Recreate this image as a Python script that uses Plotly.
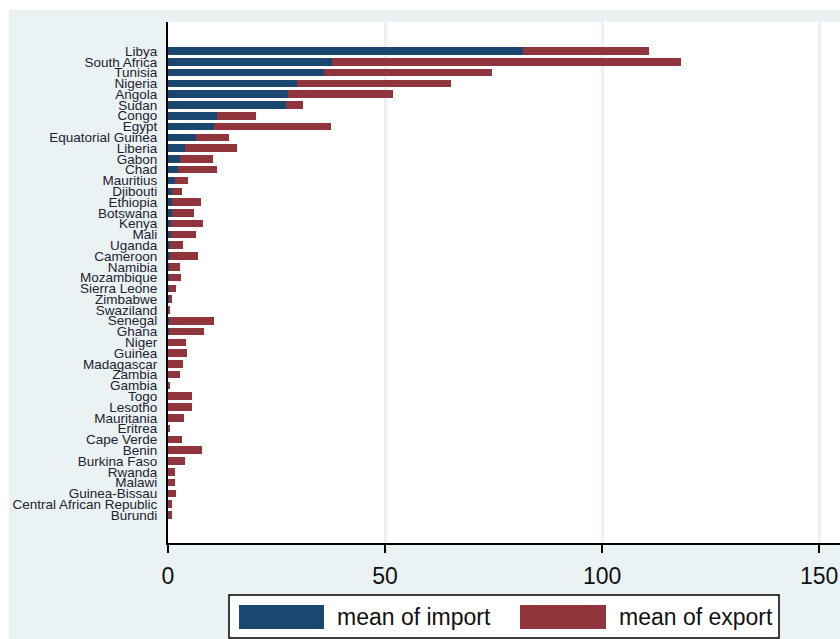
import plotly.graph_objects as go

# Country-level average trade values (import / export), ordered as plotted top to bottom
countries = [
    "Libya", "South Africa", "Tunisia", "Nigeria", "Angola", "Sudan", "Congo", "Egypt",
    "Equatorial Guinea", "Liberia", "Gabon", "Chad", "Mauritius", "Djibouti", "Ethiopia",
    "Botswana", "Kenya", "Mali", "Uganda", "Cameroon", "Namibia", "Mozambique",
    "Sierra Leone", "Zimbabwe", "Swaziland", "Senegal", "Ghana", "Niger", "Guinea",
    "Madagascar", "Zambia", "Gambia", "Togo", "Lesotho", "Mauritania", "Eritrea",
    "Cape Verde", "Benin", "Burkina Faso", "Rwanda", "Malawi", "Guinea-Bissau",
    "Central African Republic", "Burundi",
]
mean_import = [
    81.8, 37.7, 35.9, 29.8, 27.7, 27.2, 11.4, 10.7,
    6.4, 3.9, 2.7, 2.3, 1.6, 1.0, 0.9,
    0.9, 0.6, 0.6, 0.4, 0.4, 0.3, 0.3,
    0.2, 0.2, 0.1, 0.2, 0.2, 0.1, 0.1,
    0.1, 0.1, 0.1, 0.1, 0.1, 0.1, 0.1,
    0.1, 0.1, 0.1, 0.1, 0.1, 0.1,
    0.1, 0.1,
]
mean_export = [
    29.0, 80.5, 38.8, 35.5, 24.1, 3.9, 8.8, 26.8,
    7.6, 12.1, 7.7, 9.0, 3.1, 2.2, 6.7,
    5.2, 7.4, 5.8, 3.1, 6.4, 2.5, 2.8,
    1.6, 0.8, 0.4, 10.5, 8.0, 4.0, 4.3,
    3.4, 2.6, 0.4, 5.4, 5.5, 3.6, 0.4,
    3.2, 7.7, 3.8, 1.4, 1.4, 1.7,
    0.9, 0.9,
]
series_names = ["mean of import", "mean of export"]
x_ticks = [0, 50, 100, 150]

NAVY = "#1a476f"
MAROON = "#90353b"
BG = "#eaf2f3"
FONT = "Arial, Liberation Sans, sans-serif"

fig = go.Figure()
fig.add_trace(go.Bar(y=countries, x=mean_import, orientation="h", name=series_names[0],
                     marker=dict(color=NAVY, line=dict(width=0))))
fig.add_trace(go.Bar(y=countries, x=mean_export, orientation="h", name=series_names[1],
                     marker=dict(color=MAROON, line=dict(width=0))))

n = len(countries)

# paper-coordinate helpers (plot area: x 168..840 px, y 22..543 px)
def px_x(p):
    return (p - 168) / 672.0

def px_y(p):
    return (543 - p) / 521.0

shapes = [
    # white strips along the top and left edges
    dict(type="rect", xref="paper", yref="paper", x0=px_x(0), x1=1.0, y0=px_y(10), y1=px_y(0),
         fillcolor="white", line=dict(width=0), layer="below"),
    dict(type="rect", xref="paper", yref="paper", x0=px_x(0), x1=px_x(9), y0=px_y(639), y1=px_y(0),
         fillcolor="white", line=dict(width=0), layer="below"),
    # legend box
    dict(type="rect", xref="paper", yref="paper", x0=px_x(229), x1=px_x(779), y0=px_y(638), y1=px_y(595),
         fillcolor="white", line=dict(color="black", width=1.5)),
    dict(type="rect", xref="paper", yref="paper", x0=px_x(239), x1=px_x(324), y0=px_y(629), y1=px_y(605),
         fillcolor=NAVY, line=dict(width=0)),
    dict(type="rect", xref="paper", yref="paper", x0=px_x(520), x1=px_x(606), y0=px_y(629), y1=px_y(605),
         fillcolor=MAROON, line=dict(width=0)),
]

annotations = [
    dict(text=series_names[0], xref="paper", yref="paper", x=px_x(335), y=px_y(617),
         xanchor="left", yanchor="middle", showarrow=False,
         font=dict(family=FONT, size=23, color="#111111")),
    dict(text=series_names[1], xref="paper", yref="paper", x=px_x(617), y=px_y(617),
         xanchor="left", yanchor="middle", showarrow=False,
         font=dict(family=FONT, size=23, color="#111111")),
]

fig.update_layout(
    barmode="stack",
    bargap=0.3,
    width=840, height=639,
    margin=dict(l=168, r=0, t=22, b=96, pad=0, autoexpand=False),
    paper_bgcolor=BG,
    plot_bgcolor="white",
    showlegend=False,
    shapes=shapes,
    annotations=annotations,
    font=dict(family=FONT, color="#111111"),
    xaxis=dict(
        range=[0, 154.8], tickvals=x_ticks, ticktext=[str(v) for v in x_ticks],
        showgrid=True, gridcolor=BG, gridwidth=2.5,
        showline=True, linecolor="black", linewidth=2,
        ticks="outside", ticklen=8, tickwidth=1.5, tickcolor="black",
        ticklabelstandoff=3,
        tickfont=dict(family=FONT, size=23, color="#111111"),
        zeroline=False, fixedrange=True, automargin=False,
    ),
    yaxis=dict(
        type="category", categoryorder="array", categoryarray=countries,
        tickmode="array", tickvals=countries, ticktext=countries,
        range=[n - 1 + 2.6, -2.69],
        showgrid=False, showline=True, linecolor="black", linewidth=2,
        ticks="", ticklabelstandoff=6,
        tickfont=dict(family=FONT, size=13.5, color="#1e2230"),
        zeroline=False, fixedrange=True, automargin=False,
    ),
)

fig.write_html("out.html")
